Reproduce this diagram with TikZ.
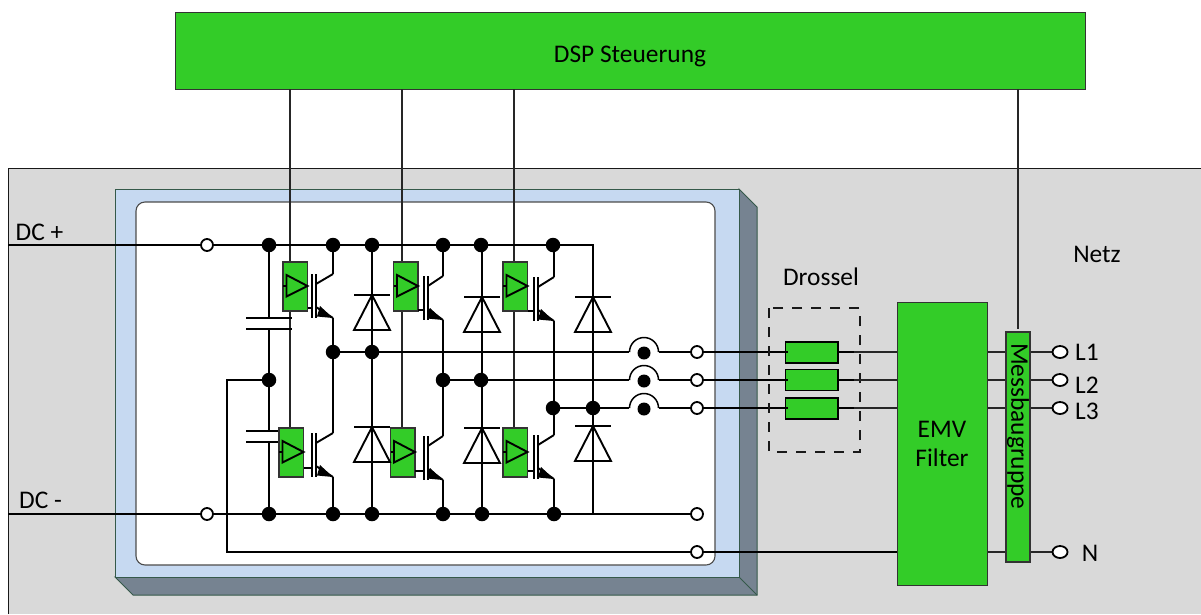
\documentclass[tikz,border=0pt]{standalone}
\usepackage{fontspec}
\usetikzlibrary{shapes.geometric}
\setmainfont{Carlito}
\newcommand{\igbt}[6]{% x-collector, bar top, box left, box top, gate stub y, inner bar x
  \draw[gbox] (#3,#4) rectangle ++(24.5,49);
  \draw[wire] (#3,#4+24) -- ++(3,0);
  \draw[wire] (#3+3.5,#4+13) -- (#3+3.5,#4+34.5) -- (#3+24.5,#4+24) -- cycle;
  \draw[wire] (#3+24.5,#5) -- (#6-4,#5);
  \draw[wire] (#6-4,#2) -- (#6-4,#2+44);
  \draw[wire] (#6,#2) -- (#6,#2+44);
  \draw[wire] (#1,#2) -- (#6,#2+10);
  \draw[wire] (#6,#2+33) -- (#1,#2+44);
  \fill (#1,#2+44) -- (#1-13,#2+32) -- (#1-16,#2+42.5) -- cycle;
}
\newcommand{\diode}[2]{% x, y of bar
  \draw[wire] (#1-18,#2) -- (#1+18,#2);
  \draw[wire,line join=miter] (#1,#2) -- (#1-18,#2+35) -- (#1+18,#2+35) -- cycle;
}
\begin{document}
\begin{tikzpicture}[x=1pt,y=-1pt,
  wire/.style={black,line width=1.9pt},
  thinwire/.style={black!85,line width=1.2pt},
  dotn/.style={circle,fill=black,inner sep=0pt,minimum size=14.5pt},
  term/.style={circle,draw=black,fill=white,line width=1.8pt,inner sep=0pt,minimum size=12pt},
  termr/.style={ellipse,draw=black,fill=white,line width=1.8pt,inner sep=0pt,minimum width=15pt,minimum height=12pt},
  gbox/.style={draw=black!80,line width=1.1pt,fill=grn},
  lbl/.style={inner sep=0pt,align=center,font=\fontsize{25.4}{29}\selectfont}]
\definecolor{grn}{HTML}{33CC28}
\definecolor{blu}{HTML}{C6D9F1}
\definecolor{slate}{HTML}{768391}
\definecolor{edge}{HTML}{35594A}
\useasboundingbox (0,0) rectangle (1201,614);
% housing
\fill[black!15] (8,168) rectangle (1201,614);
\draw[black!90,line width=1pt] (8,614) -- (8,168) -- (1201,168);
% module
\draw[edge,line width=1pt,fill=slate] (739,189) -- (757,207) -- (757,595) -- (133,595) -- (115,577) -- (739,577) -- cycle;
\draw[edge,line width=1pt] (739,577) -- (757,595);
\draw[edge,line width=1pt,fill=blu] (115,189) rectangle (739,577);
\draw[black!70,line width=1.1pt,fill=white,rounded corners=9pt] (136,202) rectangle (715,565);
% DSP
\node[gbox,line width=0.9pt,minimum width=910pt,minimum height=77pt,lbl] (dsp) at (630,50.5) {\raisebox{-4pt}[\height][0pt]{DSP Steuerung}};
% control wires
\draw[thinwire] (290,89) -- (290,428);
\draw[thinwire] (402,89) -- (402,428);
\draw[thinwire] (514,89) -- (514,428);
\coordinate (dspm) at (1018,89);
\coordinate (messin) at (1018,329);
\draw[thinwire] (dspm) -- (messin);
% busses
\draw[wire] (8,245) -- (593,245) -- (593,514);
\draw[wire] (8,514) -- (697,514);
\draw[wire] (269,380) -- (227,380) -- (227,552) -- (897,552);
% phase verticals
\draw[wire] (333,245) -- (333,274);
\draw[wire] (333,318) -- (333,433);
\draw[wire] (333,477) -- (333,514);
\draw[wire] (443,245) -- (443,276);
\draw[wire] (443,320) -- (443,436);
\draw[wire] (443,480) -- (443,514);
\draw[wire] (554,245) -- (554,277);
\draw[wire] (554,321) -- (554,435);
\draw[wire] (554,479) -- (554,514);
\foreach \x in {372,482}{\draw[wire] (\x,245) -- (\x,514);}
% capacitor
\draw[wire] (269,245) -- (269,318);
\draw[wire] (269,329) -- (269,431);
\draw[wire] (269,442) -- (269,514);
\draw[wire] (246,318) -- (292,318);
\draw[wire] (246,329) -- (292,329);
\draw[wire] (246,431) -- (292,431);
\draw[wire] (246,442) -- (292,442);
% AC lines
\draw[wire] (333,352) -- (629,352);
\draw[wire] (443,380) -- (629,380);
\draw[wire] (553,408) -- (629,408);
\foreach \y in {352,380,408}{
  \draw[wire] (659,\y) -- (786,\y);
  \draw[wire,line width=1.5pt] (629.5,\y) arc[start angle=180,end angle=360,radius=14.5];
  \node[dotn,minimum size=13pt] at (644,\y+1) {};
  \node[term] at (697,\y) {};
}
% IGBTs
\igbt{333}{274}{283}{262}{308}{316}
\igbt{443}{276}{393.5}{262}{310}{428}
\igbt{554}{277}{503}{262}{311}{538}
\igbt{333}{433}{279}{428}{468}{316}
\igbt{443}{436}{390.5}{428}{471}{428}
\igbt{554}{435}{503}{428}{471}{538}
% diodes
\diode{372}{295}\diode{482}{297}\diode{593}{297}
\diode{372}{427}\diode{482}{428}\diode{593}{426}
% dots
\foreach \x in {269,333,372,443,481,553}{\node[dotn] at (\x,245) {};}
\foreach \x in {269,333,372,443,482,554}{\node[dotn] at (\x,514) {};}
\node[dotn] at (269,380) {};
\node[dotn] at (333,352) {};\node[dotn] at (372,352) {};
\node[dotn] at (443,380) {};\node[dotn] at (481,380) {};
\node[dotn] at (553,408) {};\node[dotn] at (593,408) {};
\node[term] (dcp) at (207,245) {};
\node[term] (dcm) at (207,514) {};
\node[term] at (697,514) {};
\node[term] at (697,552) {};
% drossel
\draw[black!90,line width=1.5pt,dash pattern=on 10pt off 9pt] (769,308) rectangle (860,452);
\foreach \y/\l in {342/352,369.5/380,398/408}{
  \draw[thinwire] (838,\l) -- (897,\l);
  \draw[gbox,draw=black,line width=1.8pt] (785.5,\y) rectangle (838,\y+21);
  \draw[wire] (780,\l) -- (788,\l);
  \draw[wire] (837,\l) -- (854,\l);
  \draw[thinwire] (987,\l) -- (1055,\l);
  \node[termr] at (1060,\l) {};
}
\draw[thinwire] (987,552) -- (1055,552);
\node[termr] at (1060,552) {};
% EMV
\node[gbox,line width=1pt,minimum width=90pt,minimum height=283pt,lbl] (emv) at (942,443.5) {EMV\\Filter};
\node[gbox,minimum width=230pt,minimum height=24pt,inner xsep=0pt,inner ysep=0pt,rotate=-90,font=\fontsize{25.4}{29}\selectfont,text width=230pt,align=left] (mess) at (1018,447) {\hspace*{11pt}Messbaugruppe};
% labels
\node[lbl] at (39.5,232) {DC +};
\node[lbl] at (40.5,500) {DC -};
\node[lbl] at (821,277) {Drossel};
\node[lbl] at (1097,254) {Netz};
\node[lbl] at (1087,352) {L1};
\node[lbl] at (1087,385) {L2};
\node[lbl] at (1087,411) {L3};
\node[lbl] at (1090,553) {N};
\end{tikzpicture}
\end{document}
